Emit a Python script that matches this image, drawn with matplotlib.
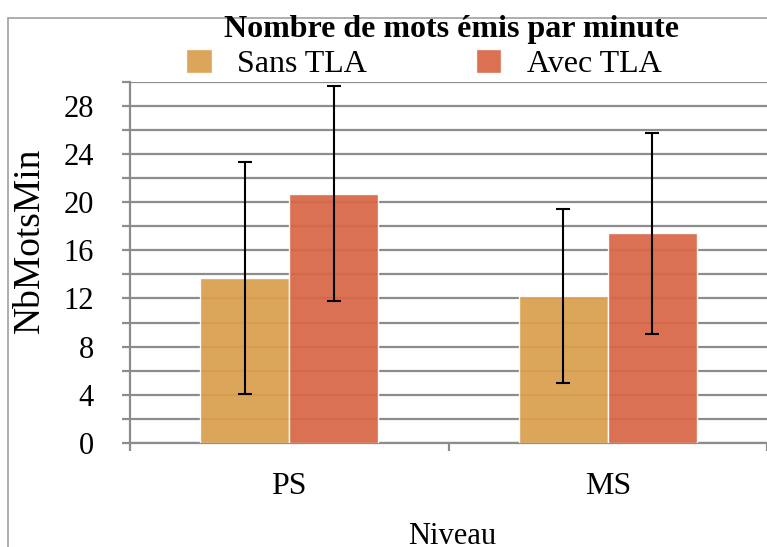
import matplotlib.pyplot as plt
import numpy as np
from matplotlib.patches import Rectangle

categories = ["PS", "MS"]
sans_tla = [13.7, 12.2]
sans_err = [9.6, 7.2]
avec_tla = [20.7, 17.4]
avec_err = [8.95, 8.35]

COL_SANS = "#DA9F4D"
COL_AVEC = "#D96646"
GRID = "#8C8C8C"

plt.rcParams['font.family'] = ['Liberation Serif', 'DejaVu Serif']

fig = plt.figure(figsize=(7.67, 5.47), dpi=100)
W, H = 767, 547
ax = fig.add_axes([130 / W, 1 - 443 / H, 637 / W, (443 - 81.7) / H])

x = np.arange(len(categories))
bw = 0.28
ax.bar(x - bw / 2, sans_tla, bw, color=COL_SANS, edgecolor="white", linewidth=1,
       alpha=0.93, zorder=3, label="Sans TLA")
ax.bar(x + bw / 2, avec_tla, bw, color=COL_AVEC, edgecolor="white", linewidth=1,
       alpha=0.93, zorder=3, label="Avec TLA")
ax.errorbar(x - bw / 2, sans_tla, yerr=sans_err, fmt="none", ecolor="black",
            elinewidth=1.5, capsize=5, capthick=1.5, zorder=4)
ax.errorbar(x + bw / 2, avec_tla, yerr=avec_err, fmt="none", ecolor="black",
            elinewidth=1.5, capsize=5, capthick=1.5, zorder=4)

ax.set_ylim(0, 30)
ax.set_xlim(-0.5, -0.5 + 637 / 321)
yt = np.arange(0, 31, 2)
ax.set_yticks(yt)
ax.set_yticklabels([str(v) if v % 4 == 0 and v < 30 else "" for v in yt])
ax.yaxis.grid(True, color=GRID, linewidth=1.6, zorder=0)
ax.set_axisbelow(True)

ax.set_xticks([-0.5, 0.5, 1.5])
ax.set_xticklabels([])
for xi, c in zip(x, categories):
    ax.text(xi, -3.6, c, ha="center", va="center", fontsize=23)

for s in ["top", "right"]:
    ax.spines[s].set_visible(False)
for s in ["left", "bottom"]:
    ax.spines[s].set_color(GRID)
    ax.spines[s].set_linewidth(1.6)
ax.tick_params(axis="y", length=6, width=1.6, color=GRID, labelsize=22, pad=20)
ax.tick_params(axis="x", length=6, width=1.6, color=GRID)

fig.text(30 / W, 1 - 240 / H, "NbMotsMin", rotation=90, ha="center", va="center", fontsize=27)
fig.text(452 / W, 1 - 536 / H, "Niveau", ha="center", va="center", fontsize=22)
fig.text(451 / W, 1 - 29 / H, "Nombre de mots émis par minute", ha="center", va="center",
         fontsize=23, fontweight="bold")

fig.legend(loc="center", bbox_to_anchor=(424 / W, 1 - 64 / H), ncol=2, frameon=False,
           fontsize=23, handlelength=0.8, handleheight=0.8, handletextpad=0.8,
           columnspacing=3.4, borderpad=0)

fig.add_artist(Rectangle((8 / W, -0.1), 1.2, 1.1 - 18 / H, transform=fig.transFigure,
                         fill=False, edgecolor="#A0A0A0", linewidth=1.2))

fig.savefig("out.png", dpi=100)
